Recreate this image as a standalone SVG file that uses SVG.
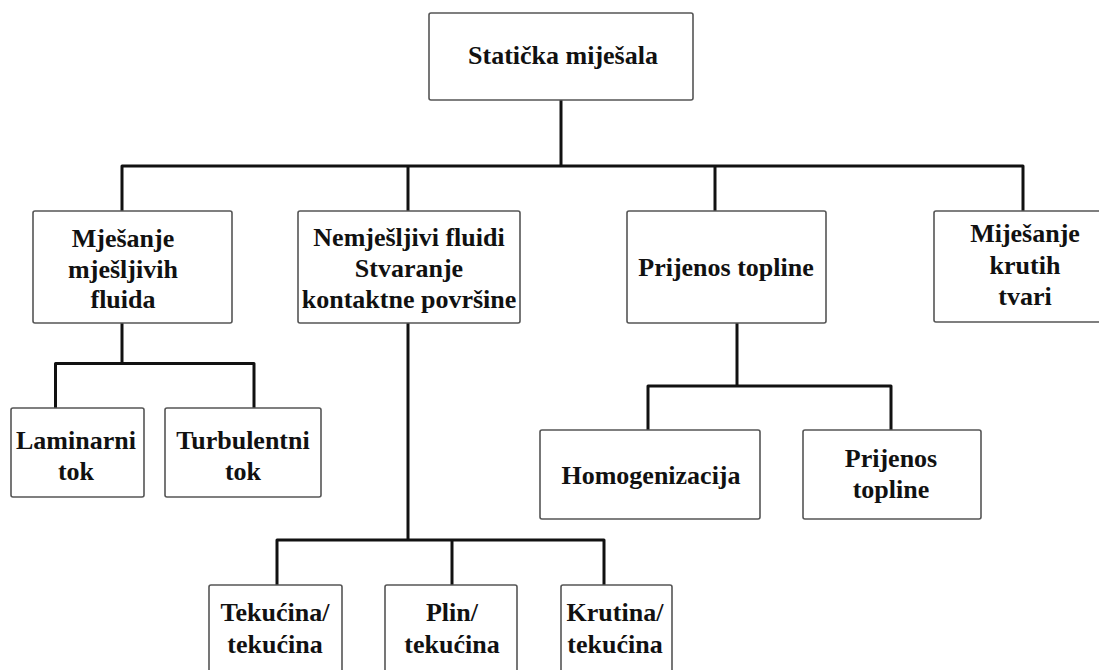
<svg xmlns="http://www.w3.org/2000/svg" width="1099" height="670" viewBox="0 0 1099 670">
<style>
.box{fill:#fff;stroke:#555;stroke-width:1.6}
.t{font-family:"Liberation Serif","Times New Roman",serif;font-weight:bold;font-size:26px;fill:#111;text-anchor:middle}
.c{fill:none;stroke:#111;stroke-width:3;stroke-linejoin:round}
</style>
<rect width="1099" height="670" fill="#fff"/>
<g id="connectors">
<path class="c" d="M561 100V166"/>
<path class="c" d="M122 211V166H1023V211"/>
<path class="c" d="M408 166V211"/>
<path class="c" d="M715 166V211"/>
<path class="c" d="M122 323V363.5"/>
<path class="c" d="M55.5 408V363.5H254V408"/>
<path class="c" d="M408 323V540"/>
<path class="c" d="M277 585V540H604V585"/>
<path class="c" d="M452 540V585"/>
<path class="c" d="M737 323V386"/>
<path class="c" d="M648 430V386H891V430"/>
</g>
<g id="root"><rect class="box" x="429" y="13" width="264" height="87" rx="2"/><text class="t" x="563" y="64">Statička miješala</text></g>
<g id="mjesanje"><rect class="box" x="33" y="211" width="199" height="112" rx="2"/><text class="t" x="123" y="247">Mješanje</text><text class="t" x="123" y="278">mješljivih</text><text class="t" x="123" y="308">fluida</text></g>
<g id="nemjesljivi"><rect class="box" x="298" y="211" width="222" height="112" rx="2"/><text class="t" x="409" y="246">Nemješljivi fluidi</text><text class="t" x="409" y="277">Stvaranje</text><text class="t" x="409" y="308">kontaktne površine</text></g>
<g id="prijenos"><rect class="box" x="627" y="211" width="199" height="112" rx="2"/><text class="t" x="726" y="276">Prijenos topline</text></g>
<g id="krute"><rect class="box" x="934" y="211" width="185" height="111" rx="2"/><text class="t" x="1025" y="242">Miješanje</text><text class="t" x="1025" y="274">krutih</text><text class="t" x="1025" y="305">tvari</text></g>
<g id="laminarni"><rect class="box" x="11" y="408" width="133" height="89" rx="2"/><text class="t" x="76" y="449">Laminarni</text><text class="t" x="76" y="480">tok</text></g>
<g id="turbulentni"><rect class="box" x="165" y="408" width="156" height="89" rx="2"/><text class="t" x="243" y="449">Turbulentni</text><text class="t" x="243" y="480">tok</text></g>
<g id="homogenizacija"><rect class="box" x="540" y="430" width="220" height="89" rx="2"/><text class="t" x="651" y="484">Homogenizacija</text></g>
<g id="prijenos2"><rect class="box" x="803" y="430" width="178" height="89" rx="2"/><text class="t" x="891" y="467">Prijenos</text><text class="t" x="891" y="498">topline</text></g>
<g id="tekucina"><rect class="box" x="209" y="585" width="133" height="110" rx="2"/><text class="t" x="275" y="621">Tekućina/</text><text class="t" x="275" y="653">tekućina</text></g>
<g id="plin"><rect class="box" x="385" y="585" width="132" height="110" rx="2"/><text class="t" x="452" y="621">Plin/</text><text class="t" x="452" y="653">tekućina</text></g>
<g id="krutina"><rect class="box" x="561" y="585" width="111" height="110" rx="2"/><text class="t" x="615" y="621">Krutina/</text><text class="t" x="615" y="653">tekućina</text></g>
</svg>
